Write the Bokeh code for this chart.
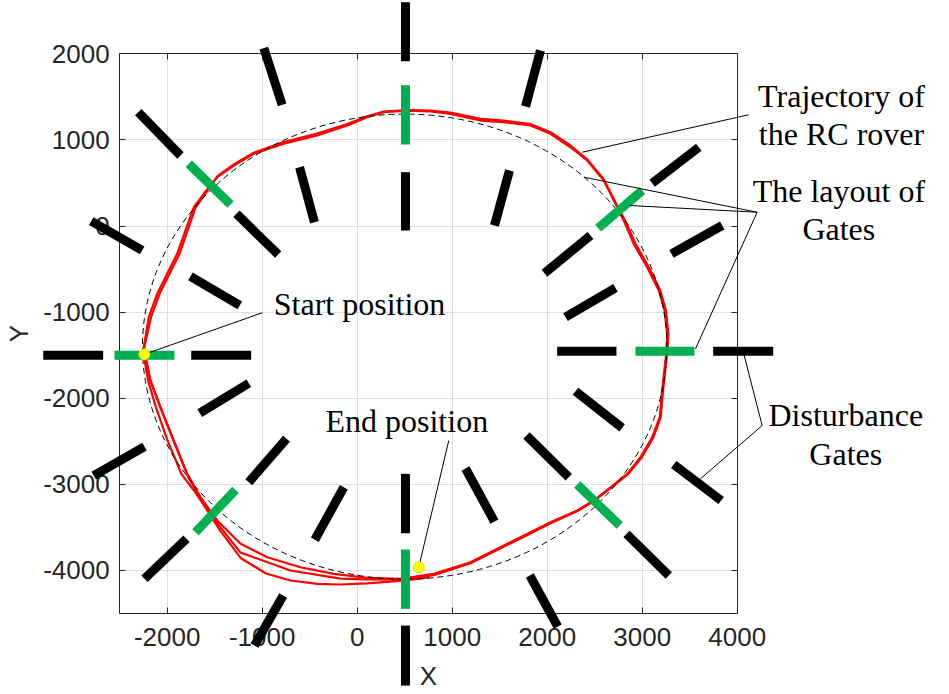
from bokeh.plotting import figure
from bokeh.models import Range1d, LinearAxis, FixedTicker, Grid
from bokeh.core.properties import value
from bokeh.embed import file_html
from bokeh.resources import INLINE

# ---------------- data ----------------
x_ticks = [-2000, -1000, 0, 1000, 2000, 3000, 4000]
y_ticks = [-4000, -3000, -2000, -1000, 0, 1000, 2000]
x_tick_labels = ["-2000", "-1000", "0", "1000", "2000", "3000", "4000"]
y_tick_labels = ["-4000", "-3000", "-2000", "-1000", "0", "1000", "2000"]
x_lim = (-2500, 4000)
y_lim = (-4500, 2000)

# reference (dashed) circle of the course
circle_cx, circle_cy = 500, -1400
circle_rx, circle_ry = 2760, 2700

# RC rover trajectory (three passes)
traj1_x = [-2239, -2246, -2194, -2105, -2000, -1895, -1807, -1720, -1615, -1474, -1299, -1088, -773, -421,
           -105, 105, 280, 526, 771, 982, 1298, 1543, 1824, 2035, 2245, 2421, 2596, 2719, 2806, 2911, 3052,
           3175, 3235, 3263, 3256, 3210, 3185, 3105, 2982, 2842, 2666, 2490, 2316, 2035, 1719, 1403, 1193,
           806, 456, 105, -246, -597, -947, -1228, -1474, -1649, -1789, -1931, -2071, -2176, -2228, -2239]
traj1_y = [-1492, -1408, -1059, -787, -555, -323, -52, 218, 374, 567, 703, 839, 955, 1051,
           1167, 1264, 1322, 1341, 1330, 1303, 1225, 1206, 1167, 1071, 915, 761, 529, 258, 64, -207, -478,
           -749, -981, -1252, -1446, -1910, -2221, -2453, -2685, -2878, -3034, -3188, -3304, -3440, -3614, -3788, -3905,
           -4039, -4097, -4086, -4039, -3963, -3846, -3691, -3420, -3150, -2878, -2491, -2104, -1794, -1524, -1492]

traj2_x = [-2239, -2240, -2170, -2080, -1975, -1870, -1785, -1700, -1600, -1470, -1300, -1090, -773, -421,
           -105, 105, 280, 526, 771, 982, 1298, 1543, 1824, 2035, 2245, 2421, 2596, 2725, 2820, 2930, 3070,
           3190, 3250, 3275, 3265, 3220, 3195, 3115, 2990, 2848, 2670, 2490, 2316, 2035, 1719, 1403, 1193,
           806, 456, 105, -176, -702, -1228, -1474, -1649, -1789, -1931, -2071, -2176, -2228, -2239]
traj2_y = [-1492, -1400, -1059, -787, -555, -323, -52, 218, 374, 580, 715, 850, 975, 1075,
           1185, 1275, 1330, 1346, 1340, 1318, 1245, 1225, 1185, 1090, 935, 775, 540, 262, 64, -207, -478,
           -749, -981, -1252, -1446, -1910, -2221, -2460, -2695, -2885, -3040, -3195, -3312, -3452, -3628, -3800, -3917,
           -4055, -4108, -4105, -4094, -4001, -3793, -3450, -3170, -2890, -2500, -2110, -1800, -1524, -1492]

traj3_x = [-2239, -2232, -2200, -2120, -2000, -1850, -1700, -1580, -1440, -1228, -960, -702, -420, -176,
           100, 350, 666, 760]
traj3_y = [-1492, -1600, -1800, -2100, -2480, -2880, -3100, -3300, -3540, -3855, -4035, -4117, -4155, -4163,
           -4150, -4129, -4094, -4078]

start_x, start_y = [-2240], [-1490]
end_x, end_y = [648], [-3963]

# gates (segment end points)
black_x0 = [-983, 508, 508, -2305, -1271, -607, -2800, -1755, 1929, 1603, 3596, 2456, 3842, 2719, -3305, -1747,
            -1141, -2239, -744, -1797, -141, -779, 508, 508, 1140, 2298, 1782, 2835, 3332, 1817, 2105, 3747]
black_y0 = [2065, 2599, 625, 1322, 142, 683, 56, -586, 2038, 645, 915, -110, 6, -718, -1500, -1500,
            -1826, -2561, -2471, -3633, -3034, -4291, -2878, -4640, -2816, -1919, -2433, -3575, -2770, -4059, -1454, -1454]
black_x1 = [-790, 508, 508, -1860, -832, -450, -2263, -1236, 1772, 1445, 3105, 1971, 3308, 2193, -2674, -1116,
            -1657, -2773, -1141, -2239, -446, -1081, 508, 508, 1445, 2789, 2227, 3280, 3831, 2111, 2729, 4379]
black_y1 = [1408, 1914, -52, 819, -331, 44, -284, -923, 1388, 6, 497, -548, -323, -1059, -1500, -1500,
            -2174, -2898, -2975, -4097, -3644, -4872, -3568, -5337, -3432, -2344, -2917, -4059, -3188, -4652, -1454, -1454]

green_x0 = [508, -1773, 3000, -2555, 2929, -1281, 2316, 508]
green_y0 = [1635, 722, 412, -1500, -1454, -3064, -3002, -3757]
green_x1 = [508, -1334, 2537, -1923, 3550, -1702, 2764, 508]
green_y1 = [947, 250, -25, -1500, -1454, -3556, -3478, -4446]

# annotations
note_c_x = [5098, 5098, 5070, 5070, 5143, 5143]
note_c_y = [1505, 1067, 401, -37, -2200, -2650]
note_c_text = ["Trajectory of", "the RC rover", "The layout of", "Gates", "Disturbance", "Gates"]
note_l_x = [-878, -334]
note_l_y = [-908, -2270]
note_l_text = ["Start position", "End position"]

lead_x0 = [4122, 4210, 4210, 4210, 4263, 4263, -1000, 964]
lead_y0 = [1292, 160, 160, 160, -2317, -2317, -1008, -2491]
lead_x1 = [2368, 2385, 2877, 3561, 4069, 3613, -2240, 648]
lead_y1 = [857, 567, 238, -1426, -1484, -2936, -1490, -3963]

# ---------------- layout ----------------
W, H = 949, 694
FL, FT, FW, FH = 119.2, 53.3, 617.5, 559.7   # axes box inside the canvas (px)
ux = (x_lim[1] - x_lim[0]) / FW
uy = (y_lim[1] - y_lim[0]) / FH
xr = Range1d(x_lim[0] - FL * ux, x_lim[1] + (W - FL - FW) * ux)
yr = Range1d(y_lim[0] - (H - FT - FH) * uy, y_lim[1] + FT * uy)

p = figure(width=W, height=H, x_range=xr, y_range=yr, output_backend="svg",
           toolbar_location=None, x_axis_type=None, y_axis_type=None, min_border=0)
p.outline_line_color = None
p.background_fill_color = "white"
p.border_fill_color = "white"

AX = "#262626"
TICK_FONT = "Liberation Sans"


def style_axis(ax, ticks, labels):
    ax.axis_line_color = AX
    ax.axis_line_width = 1
    ax.major_tick_line_color = AX
    ax.major_tick_in = 6
    ax.major_tick_out = 0
    ax.minor_tick_in = 0
    ax.minor_tick_out = 0
    ax.major_label_overrides = dict(zip(ticks, labels))
    ax.major_label_text_font = TICK_FONT
    ax.major_label_text_color = AX
    ax.major_label_text_font_size = "26px"
    ax.axis_label_text_font = TICK_FONT
    ax.axis_label_text_font_size = "26px"
    ax.axis_label_text_font_style = "normal"
    ax.axis_label_text_color = AX


xax = LinearAxis(fixed_location=y_lim[0], ticker=FixedTicker(ticks=x_ticks), bounds=x_lim, axis_label="X")
style_axis(xax, x_ticks, x_tick_labels)
xax.major_label_standoff = 14
xax.axis_label_standoff = 12
p.add_layout(xax, "below")

yax = LinearAxis(fixed_location=x_lim[0], ticker=FixedTicker(ticks=y_ticks), bounds=y_lim, axis_label="Y")
style_axis(yax, y_ticks, y_tick_labels)
yax.major_label_standoff = 10
yax.axis_label_standoff = 6
p.add_layout(yax, "left")

tax = LinearAxis(fixed_location=y_lim[1], ticker=FixedTicker(ticks=x_ticks), bounds=x_lim)
style_axis(tax, x_ticks, [""] * len(x_ticks))
p.add_layout(tax, "above")

rax = LinearAxis(fixed_location=x_lim[1], ticker=FixedTicker(ticks=y_ticks), bounds=y_lim)
style_axis(rax, y_ticks, [""] * len(y_ticks))
p.add_layout(rax, "right")

GRID = "#dedede"
p.add_layout(Grid(dimension=0, ticker=FixedTicker(ticks=x_ticks), cross_bounds=y_lim, grid_line_color=GRID))
p.add_layout(Grid(dimension=1, ticker=FixedTicker(ticks=y_ticks), cross_bounds=x_lim, grid_line_color=GRID))

# trajectory
for tx, ty in ((traj1_x, traj1_y), (traj2_x, traj2_y), (traj3_x, traj3_y)):
    p.line(tx, ty, line_color="#ff0000", line_width=2.2, line_join="round")

# dashed reference circle
p.ellipse(x=[circle_cx], y=[circle_cy], width=[2 * circle_rx], height=[2 * circle_ry],
          fill_color=None, line_color="black", line_width=1, line_dash="6 4")

# gates
p.segment(x0=black_x0, y0=black_y0, x1=black_x1, y1=black_y1, line_color="black",
          line_width=9, line_cap="butt", level="annotation")
p.segment(x0=green_x0, y0=green_y0, x1=green_x1, y1=green_y1, line_color="#00b050",
          line_width=9, line_cap="butt", level="annotation")

# leader lines
p.segment(x0=lead_x0, y0=lead_y0, x1=lead_x1, y1=lead_y1, line_color="black",
          line_width=1, level="annotation")

# start / end markers
p.scatter(start_x + end_x, start_y + end_y, size=11, fill_color="#ffff00",
          line_color="#e0e000", line_width=1, level="overlay")

# annotation texts
p.text(x=note_c_x, y=note_c_y, text=note_c_text, text_font=value("Liberation Serif"),
       text_font_size=value("32px"), text_align="center", text_baseline="alphabetic",
       text_color="black", level="overlay")
p.text(x=note_l_x, y=note_l_y, text=note_l_text, text_font=value("Liberation Serif"),
       text_font_size=value("32px"), text_align="left", text_baseline="alphabetic",
       text_color="black", level="overlay")

open("out.html", "w").write(file_html(p, INLINE))
